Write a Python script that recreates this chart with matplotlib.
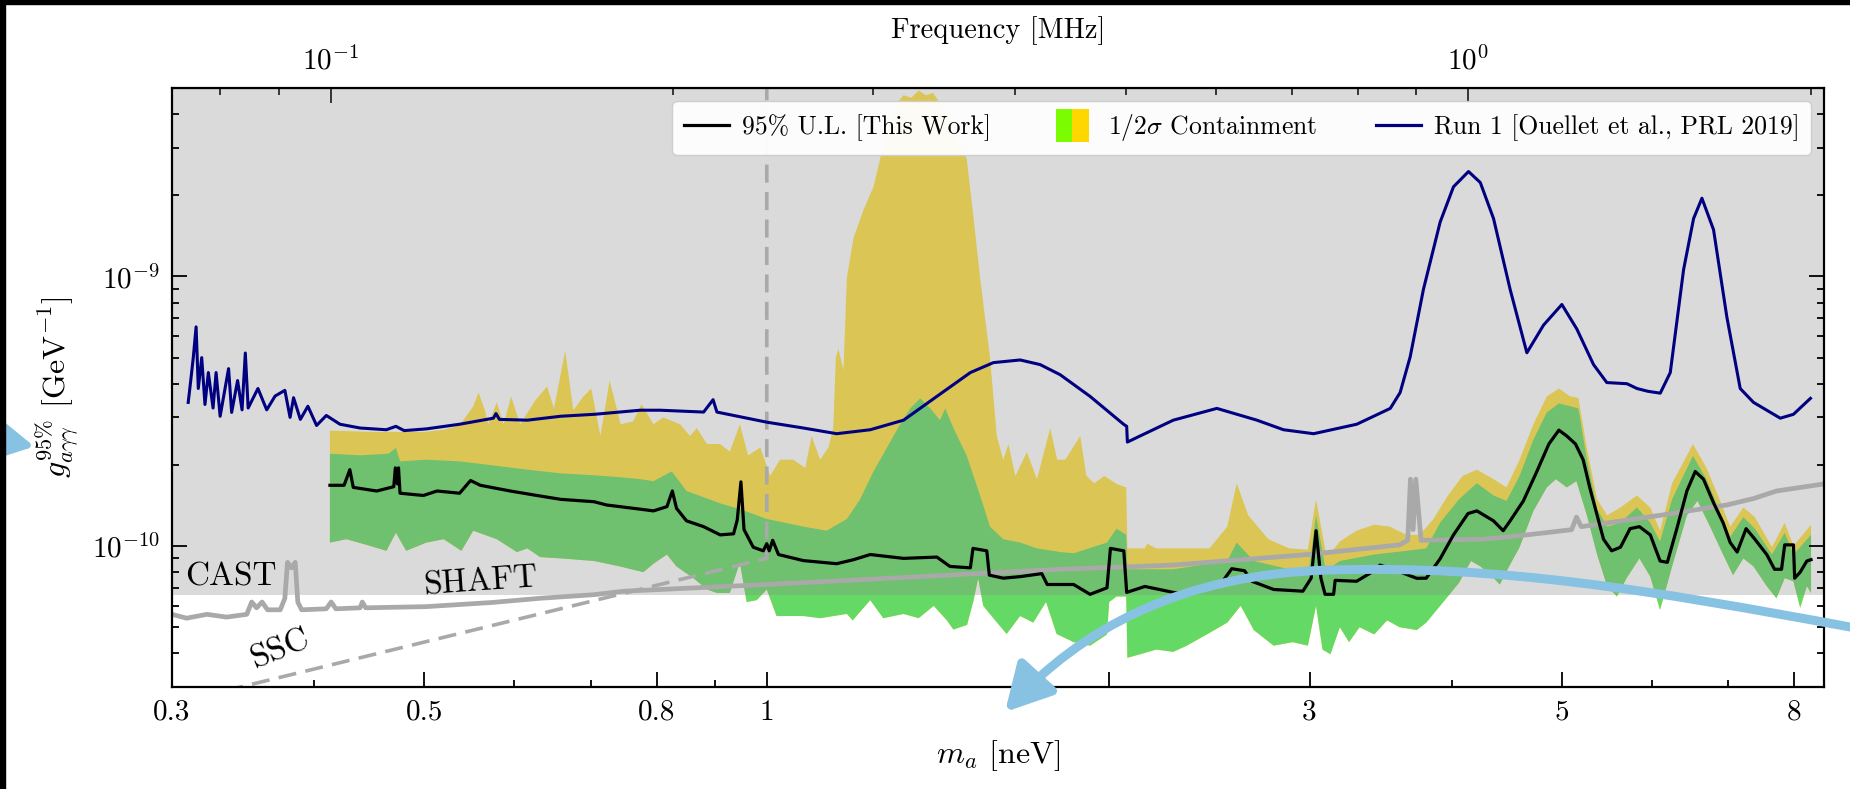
import numpy as np
import matplotlib
matplotlib.use('Agg')
import matplotlib.pyplot as plt
from matplotlib.patches import Rectangle, FancyArrowPatch
from matplotlib.path import Path
from matplotlib.legend_handler import HandlerBase
from matplotlib.lines import Line2D
from matplotlib.ticker import FixedLocator, FixedFormatter, NullFormatter, LogFormatterSciNotation

plt.rcParams['font.family'] = 'serif'
plt.rcParams['font.serif'] = ['cmr10']
plt.rcParams['mathtext.fontset'] = 'cm'
plt.rcParams['axes.unicode_minus'] = False
plt.rcParams['axes.formatter.use_mathtext'] = True

# ---------------- data ----------------
run1_m = [0.310, 0.3116, 0.3132, 0.315, 0.3164, 0.3186, 0.3207, 0.3229, 0.326, 0.328, 0.3307, 0.3364,
          0.3385, 0.3426, 0.3457, 0.348, 0.350, 0.357, 0.3634, 0.3696, 0.377, 0.381, 0.3837, 0.389,
          0.395, 0.402, 0.410, 0.4215, 0.439, 0.463, 0.472, 0.480, 0.502, 0.537, 0.575, 0.578, 0.582,
          0.616, 0.659, 0.705, 0.774, 0.806, 0.880, 0.897, 0.904, 1.0, 1.077, 1.152, 1.233, 1.319,
          1.411, 1.510, 1.582, 1.670, 1.739, 1.811, 1.924, 2.059, 2.072, 2.075, 2.129, 2.277, 2.487,
          2.697, 2.846, 3.025, 3.301, 3.533, 3.604, 3.678, 3.778, 3.908, 4.015, 4.139, 4.239, 4.354,
          4.503, 4.658, 4.818, 5.0, 5.154, 5.331, 5.476, 5.704, 5.821, 5.95, 6.102, 6.227, 6.397,
          6.528, 6.639, 6.797, 6.983, 7.174, 7.37, 7.78, 7.99, 8.27]
run1_g = [3.41e-10, 4.11e-10, 5.0e-10, 6.5e-10, 3.84e-10, 5.0e-10, 3.35e-10, 4.4e-10, 3.25e-10, 4.4e-10,
          3.03e-10, 4.55e-10, 3.13e-10, 4.11e-10, 3.2e-10, 5.2e-10, 3.25e-10, 3.84e-10, 3.2e-10, 3.6e-10,
          3.78e-10, 3.0e-10, 3.55e-10, 2.95e-10, 3.3e-10, 2.8e-10, 3.05e-10, 2.83e-10, 2.74e-10, 2.70e-10,
          2.78e-10, 2.68e-10, 2.72e-10, 2.83e-10, 2.98e-10, 3.1e-10, 2.95e-10, 2.93e-10, 3.03e-10,
          3.08e-10, 3.19e-10, 3.19e-10, 3.14e-10, 3.49e-10, 3.14e-10, 2.88e-10, 2.74e-10, 2.61e-10,
          2.70e-10, 2.93e-10, 3.59e-10, 4.40e-10, 4.79e-10, 4.90e-10, 4.71e-10, 4.32e-10, 3.59e-10,
          2.83e-10, 2.78e-10, 2.43e-10, 2.56e-10, 2.93e-10, 3.24e-10, 2.93e-10, 2.70e-10, 2.61e-10,
          2.83e-10, 3.24e-10, 3.71e-10, 5.03e-10, 8.95e-10, 1.59e-9, 2.15e-9, 2.45e-9, 2.23e-9, 1.64e-9,
          8.95e-10, 5.21e-10, 6.6e-10, 7.87e-10, 6.38e-10, 4.71e-10, 4.04e-10, 4.0e-10, 3.84e-10,
          3.75e-10, 3.69e-10, 4.4e-10, 1.06e-9, 1.64e-9, 1.95e-9, 1.49e-9, 7.06e-10, 3.84e-10, 3.41e-10,
          2.98e-10, 3.08e-10, 3.53e-10]

ul_m = [0.413, 0.425, 0.430, 0.433, 0.454, 0.470, 0.4715, 0.4735, 0.4745, 0.476, 0.499, 0.513, 0.537,
        0.549, 0.560, 0.595, 0.628, 0.659, 0.705, 0.723, 0.774, 0.795, 0.817, 0.826, 0.833, 0.850,
        0.880, 0.910, 0.935, 0.942, 0.949, 0.955, 0.973, 0.993, 1.0, 1.005, 1.012, 1.024, 1.077, 1.152,
        1.192, 1.233, 1.319, 1.411, 1.449, 1.510, 1.518, 1.561, 1.569, 1.614, 1.670, 1.745, 1.764,
        1.811, 1.861, 1.924, 1.991, 2.005, 2.06, 2.072, 2.15, 2.277, 2.33, 2.437, 2.52, 2.563, 2.63,
        2.67, 2.79, 2.96, 3.01, 3.04, 3.07, 3.096, 3.15, 3.16, 3.30, 3.42, 3.46, 3.58, 3.728, 3.80,
        3.908, 4.015, 4.135, 4.21, 4.354, 4.44, 4.503, 4.625, 4.753, 4.87, 4.97, 5.05, 5.14, 5.22,
        5.29, 5.37, 5.44, 5.53, 5.63, 5.74, 5.85, 5.98, 6.10, 6.19, 6.31, 6.44, 6.55, 6.66, 6.80,
        6.93, 7.03, 7.13, 7.26, 7.39, 7.57, 7.69, 7.80, 7.85, 7.99, 8.01, 8.10, 8.21, 8.28]
ul_g = [1.68e-10, 1.68e-10, 1.92e-10, 1.65e-10, 1.60e-10, 1.66e-10, 1.95e-10, 1.70e-10, 1.95e-10,
        1.57e-10, 1.54e-10, 1.60e-10, 1.57e-10, 1.75e-10, 1.68e-10, 1.60e-10, 1.54e-10, 1.49e-10,
        1.46e-10, 1.42e-10, 1.37e-10, 1.35e-10, 1.40e-10, 1.60e-10, 1.38e-10, 1.24e-10, 1.18e-10,
        1.10e-10, 1.11e-10, 1.25e-10, 1.73e-10, 1.15e-10, 9.9e-11, 9.6e-11, 1.02e-10, 9.6e-11, 1.05e-10,
        9.3e-11, 8.83e-11, 8.6e-11, 8.9e-11, 9.3e-11, 9.0e-11, 9.1e-11, 8.4e-11, 8.3e-11, 9.8e-11,
        9.6e-11, 7.8e-11, 7.6e-11, 7.7e-11, 7.9e-11, 7.2e-11, 7.2e-11, 7.2e-11, 6.62e-11, 7.0e-11,
        9.8e-11, 9.6e-11, 6.73e-11, 7.08e-11, 6.73e-11, 6.62e-11, 7.08e-11, 7.46e-11, 8.24e-11,
        8.1e-11, 7.4e-11, 6.9e-11, 6.8e-11, 7.6e-11, 1.14e-10, 7.6e-11, 6.62e-11, 6.62e-11, 7.46e-11,
        7.4e-11, 8.1e-11, 8.5e-11, 8.1e-11, 7.59e-11, 7.6e-11, 8.97e-11, 1.10e-10, 1.32e-10, 1.35e-10,
        1.24e-10, 1.14e-10, 1.24e-10, 1.47e-10, 1.89e-10, 2.39e-10, 2.69e-10, 2.56e-10, 2.39e-10,
        2.09e-10, 1.65e-10, 1.30e-10, 1.06e-10, 9.6e-11, 9.9e-11, 1.16e-10, 1.18e-10, 1.10e-10,
        8.8e-11, 8.7e-11, 1.16e-10, 1.60e-10, 1.89e-10, 1.77e-10, 1.44e-10, 1.22e-10, 1.03e-10,
        9.5e-11, 1.16e-10, 1.06e-10, 9.3e-11, 8.2e-11, 8.2e-11, 1.01e-10, 1.01e-10, 7.6e-11, 8.0e-11,
        8.8e-11, 8.9e-11]

hi2_m = [0.413, 0.45, 0.50, 0.52, 0.537, 0.552, 0.558, 0.565, 0.569, 0.579, 0.587, 0.596, 0.607, 0.626,
         0.641, 0.650, 0.665, 0.676, 0.690, 0.701, 0.714, 0.7275, 0.744, 0.763, 0.776, 0.795, 0.811,
         0.839, 0.856, 0.868, 0.886, 0.910, 0.928, 0.947, 0.963, 0.987, 1.007, 1.027, 1.055, 1.081,
         1.095, 1.114, 1.133, 1.144, 1.150, 1.156, 1.168, 1.176, 1.192, 1.216, 1.241, 1.258, 1.275,
         1.301, 1.319, 1.34, 1.36, 1.38, 1.40, 1.43, 1.459, 1.499, 1.52, 1.54, 1.571, 1.593, 1.614,
         1.631, 1.654, 1.693, 1.728, 1.775, 1.80, 1.83, 1.886, 1.91, 1.94, 1.98, 2.03, 2.07, 2.075,
         2.15, 2.16, 2.20, 2.45, 2.54, 2.589, 2.65, 2.76, 2.88, 2.99, 3.04, 3.10, 3.15, 3.19, 3.30,
         3.42, 3.53, 3.65, 3.75, 3.856, 3.97, 4.09, 4.21, 4.354, 4.47, 4.59, 4.72, 4.85, 4.97, 5.08,
         5.17, 5.26, 5.37, 5.48, 5.63, 5.82, 5.98, 6.10, 6.25, 6.52, 6.70, 6.88, 7.03, 7.22, 7.39,
         7.65, 7.85, 7.99, 8.28]
hi2_g = [2.68e-10, 2.65e-10, 2.65e-10, 2.7e-10, 2.8e-10, 3.3e-10, 3.71e-10, 3.2e-10, 2.83e-10, 3.41e-10,
         2.83e-10, 3.59e-10, 2.83e-10, 3.47e-10, 3.91e-10, 3.24e-10, 5.3e-10, 3.19e-10, 3.59e-10,
         3.84e-10, 2.56e-10, 4.11e-10, 2.83e-10, 2.9e-10, 3.36e-10, 2.83e-10, 3.0e-10, 2.83e-10,
         2.56e-10, 2.74e-10, 2.39e-10, 2.39e-10, 2.24e-10, 2.83e-10, 2.17e-10, 2.32e-10, 1.82e-10,
         2.09e-10, 2.09e-10, 1.95e-10, 2.56e-10, 2.09e-10, 2.32e-10, 2.74e-10, 5.0e-10, 5.38e-10,
         4.5e-10, 9.9e-10, 1.39e-9, 1.76e-9, 2.15e-9, 2.73e-9, 3.58e-9, 4.38e-9, 4.7e-9, 4.6e-9,
         4.9e-9, 4.7e-9, 4.8e-9, 4.2e-9, 3.46e-9, 2.73e-9, 1.64e-9, 9.9e-10, 5.03e-10, 2.56e-10,
         2.09e-10, 2.39e-10, 1.82e-10, 2.23e-10, 1.77e-10, 2.74e-10, 2.09e-10, 2.09e-10, 2.56e-10,
         1.82e-10, 1.71e-10, 1.82e-10, 1.70e-10, 1.65e-10, 9.8e-11, 9.8e-11, 1.02e-10, 9.8e-11, 9.8e-11,
         1.18e-10, 1.71e-10, 1.30e-10, 1.06e-10, 9.8e-11, 9.7e-11, 1.49e-10, 9.5e-11, 9.7e-11, 1.04e-10,
         1.14e-10, 1.20e-10, 1.18e-10, 1.10e-10, 1.10e-10, 1.26e-10, 1.54e-10, 1.82e-10, 1.92e-10,
         1.77e-10, 1.65e-10, 2.09e-10, 2.83e-10, 3.59e-10, 3.84e-10, 3.6e-10, 3.54e-10, 2.31e-10,
         1.49e-10, 1.30e-10, 1.39e-10, 1.54e-10, 1.39e-10, 1.14e-10, 1.71e-10, 2.39e-10, 1.95e-10,
         1.49e-10, 1.18e-10, 1.39e-10, 1.28e-10, 9.9e-11, 1.22e-10, 1.0e-10, 1.2e-10]

hi1_m = [0.413, 0.439, 0.465, 0.472, 0.476, 0.502, 0.537, 0.575, 0.616, 0.659, 0.705, 0.743, 0.774,
         0.795, 0.825, 0.850, 0.910, 0.947, 1.0, 1.077, 1.129, 1.176, 1.208, 1.241, 1.275, 1.31, 1.337,
         1.364, 1.392, 1.42, 1.435, 1.459, 1.499, 1.54, 1.571, 1.614, 1.670, 1.728, 1.811, 1.861,
         1.991, 2.03, 2.07, 2.075, 2.277, 2.54, 2.589, 2.68, 2.88, 3.0, 3.04, 3.10, 3.19, 3.42, 3.65,
         3.80, 3.908, 4.06, 4.17, 4.21, 4.354, 4.47, 4.59, 4.72, 4.85, 4.97, 5.17, 5.26, 5.37, 5.48,
         5.63, 5.82, 5.98, 6.10, 6.25, 6.52, 6.70, 6.88, 7.03, 7.22, 7.39, 7.65, 7.85, 7.99, 8.28]
hi1_g = [2.2e-10, 2.17e-10, 2.2e-10, 2.31e-10, 2.06e-10, 2.09e-10, 2.06e-10, 1.99e-10, 1.92e-10,
         1.86e-10, 1.83e-10, 1.80e-10, 1.77e-10, 1.74e-10, 1.89e-10, 1.60e-10, 1.44e-10, 1.37e-10,
         1.26e-10, 1.18e-10, 1.14e-10, 1.26e-10, 1.49e-10, 1.89e-10, 2.31e-10, 2.83e-10, 3.24e-10,
         3.53e-10, 3.24e-10, 2.93e-10, 3.24e-10, 2.74e-10, 2.16e-10, 1.54e-10, 1.18e-10, 1.06e-10,
         1.03e-10, 9.8e-11, 9.5e-11, 9.4e-11, 1.03e-10, 1.16e-10, 1.10e-10, 8.2e-11, 8.2e-11, 8.8e-11,
         1.03e-10, 8.8e-11, 8.2e-11, 8.4e-11, 1.30e-10, 8.1e-11, 8.8e-11, 9.3e-11, 9.6e-11, 9.8e-11,
         1.22e-10, 1.49e-10, 1.65e-10, 1.71e-10, 1.54e-10, 1.47e-10, 1.82e-10, 2.48e-10, 3.13e-10,
         3.38e-10, 3.24e-10, 2.09e-10, 1.37e-10, 1.18e-10, 1.22e-10, 1.39e-10, 1.22e-10, 1.04e-10,
         1.49e-10, 2.16e-10, 1.77e-10, 1.35e-10, 1.08e-10, 1.28e-10, 1.16e-10, 9.3e-11, 1.12e-10,
         9.3e-11, 1.10e-10]

lo1_m = [0.413, 0.427, 0.445, 0.463, 0.472, 0.482, 0.502, 0.520, 0.539, 0.552, 0.579, 0.603, 0.616,
         0.632, 0.659, 0.705, 0.743, 0.779, 0.795, 0.817, 0.833, 0.862, 0.886, 0.904, 0.928, 0.947,
         0.960, 0.98, 1.0, 1.02, 1.077, 1.114, 1.176, 1.19, 1.233, 1.266, 1.319, 1.36, 1.402, 1.44,
         1.459, 1.50, 1.52, 1.534, 1.55, 1.582, 1.625, 1.67, 1.715, 1.76, 1.798, 1.861, 1.924, 1.991,
         2.0, 2.03, 2.07, 2.075, 2.13, 2.2, 2.277, 2.34, 2.437, 2.54, 2.61, 2.68, 2.79, 2.90, 2.99,
         3.04, 3.08, 3.13, 3.19, 3.25, 3.32, 3.42, 3.51, 3.6, 3.728, 3.80, 3.908, 4.06, 4.16, 4.24,
         4.33, 4.41, 4.50, 4.59, 4.72, 4.85, 4.94, 5.05, 5.15, 5.26, 5.37, 5.48, 5.59, 5.70, 5.85,
         5.98, 6.10, 6.25, 6.44, 6.58, 6.75, 6.93, 7.07, 7.22, 7.37, 7.57, 7.72, 7.85, 7.99, 8.1,
         8.21, 8.28]
lo1_g = [1.03e-10, 1.06e-10, 1.01e-10, 9.6e-11, 1.12e-10, 9.6e-11, 1.03e-10, 1.06e-10, 9.6e-11,
         1.14e-10, 1.06e-10, 9.5e-11, 9.8e-11, 9.1e-11, 9.0e-11, 8.8e-11, 8.4e-11, 8.0e-11, 8.6e-11,
         9.3e-11, 8.4e-11, 7.6e-11, 6.9e-11, 6.7e-11, 6.7e-11, 8.7e-11, 6.2e-11, 6.3e-11, 6.9e-11,
         5.5e-11, 5.5e-11, 5.4e-11, 5.6e-11, 5.3e-11, 6.3e-11, 5.4e-11, 5.6e-11, 5.4e-11, 6.0e-11,
         5.3e-11, 4.9e-11, 5.1e-11, 6.3e-11, 7.6e-11, 6.0e-11, 5.4e-11, 4.72e-11, 5.5e-11, 5.2e-11,
         6.2e-11, 4.72e-11, 4.4e-11, 4.27e-11, 4.7e-11, 6.2e-11, 6.5e-11, 6.5e-11, 3.85e-11, 3.97e-11,
         4.13e-11, 4.05e-11, 4.27e-11, 4.7e-11, 5.2e-11, 6.0e-11, 4.88e-11, 4.27e-11, 4.4e-11,
         4.27e-11, 6.0e-11, 4.13e-11, 3.97e-11, 5.0e-11, 4.4e-11, 5.0e-11, 4.7e-11, 5.3e-11, 5.0e-11,
         4.88e-11, 5.2e-11, 6.0e-11, 7.3e-11, 8.8e-11, 8.4e-11, 7.8e-11, 7.2e-11, 8.5e-11, 9.9e-11,
         1.35e-10, 1.65e-10, 1.77e-10, 1.65e-10, 1.74e-10, 1.30e-10, 9.3e-11, 7.1e-11, 6.5e-11,
         7.6e-11, 9.0e-11, 7.7e-11, 5.8e-11, 8.4e-11, 1.30e-10, 1.47e-10, 1.18e-10, 9.3e-11, 7.8e-11,
         9.0e-11, 8.4e-11, 7.1e-11, 6.4e-11, 7.6e-11, 7.4e-11, 5.9e-11, 7.1e-11, 6.7e-11]

shaft_m = [0.3, 0.309, 0.322, 0.335, 0.349, 0.3525, 0.356, 0.360, 0.364, 0.3735, 0.377, 0.379, 0.382,
           0.385, 0.387, 0.390, 0.410, 0.414, 0.418, 0.439, 0.441, 0.444, 0.502, 0.575, 0.632, 0.705,
           0.749, 1.0, 1.364, 1.811, 2.277, 2.99, 3.6, 3.66, 3.68, 3.70, 3.72, 3.76, 4.26, 4.66, 5.1,
           5.15, 5.2, 6.1, 6.98, 7.37, 7.72, 8.5]
shaft_g = [5.58e-11, 5.4e-11, 5.58e-11, 5.45e-11, 5.58e-11, 6.2e-11, 5.9e-11, 6.2e-11, 5.8e-11,
           5.8e-11, 6.4e-11, 8.7e-11, 8.3e-11, 8.7e-11, 6.2e-11, 5.8e-11, 5.85e-11, 6.2e-11, 5.85e-11,
           5.9e-11, 6.2e-11, 5.9e-11, 5.96e-11, 6.18e-11, 6.4e-11, 6.6e-11, 6.8e-11, 7.2e-11, 7.7e-11,
           8.2e-11, 8.5e-11, 9.3e-11, 1.01e-10, 1.05e-10, 1.77e-10, 1.15e-10, 1.77e-10, 1.05e-10,
           1.06e-10, 1.1e-10, 1.15e-10, 1.28e-10, 1.18e-10, 1.3e-10, 1.42e-10, 1.5e-10, 1.6e-10, 1.7e-10]

ssc_m = [0.3, 1.0, 1.0]
ssc_g = [2.6e-11, 9.0e-11, 6.0e-9]

cast_g = 6.6e-11

xtick_vals = [0.3, 0.5, 0.8, 1, 2, 3, 5, 8]
xtick_labels = ['0.3', '0.5', '0.8', '1', '', '3', '5', '8']
xminor_vals = [0.4, 0.6, 0.7, 0.9, 4, 6, 7]
ytick_vals = [1e-10, 1e-9]
yminor_vals = [4e-11, 5e-11, 6e-11, 7e-11, 8e-11, 9e-11, 2e-10, 3e-10, 4e-10, 5e-10, 6e-10, 7e-10,
               8e-10, 9e-10, 2e-9, 3e-9, 4e-9]
ftick_vals = [0.1, 1.0]
fminor_vals = [0.08, 0.09, 0.2, 0.3, 0.4, 0.5, 0.6, 0.7, 0.8, 0.9, 2.0]
neV_to_MHz = 0.241799

# ---------------- figure ----------------
W, H = 1850, 789
fig = plt.figure(figsize=(W / 100, H / 100), dpi=100)
fig.patch.set_facecolor('white')
ax = fig.add_axes([172 / W, 1 - 687 / H, (1824 - 172) / W, (687 - 88) / H])
ax.set_xscale('log')
ax.set_yscale('log')
ax.set_xlim(0.3, 8.5)
ax.set_ylim(3e-11, 5e-9)

GREEN = '#65d965'
YELLOW = '#ffe140'

ax.fill(np.concatenate([hi2_m, lo1_m[::-1]]), np.concatenate([hi2_g, lo1_g[::-1]]),
        color=YELLOW, lw=0, zorder=1)
ax.fill(np.concatenate([hi1_m, lo1_m[::-1]]), np.concatenate([hi1_g, lo1_g[::-1]]),
        color=GREEN, lw=0, zorder=1.1)

# CAST excluded region (semi-transparent gray over the bands)
ax.axhspan(cast_g, 1e-7, color='#878787', alpha=0.3, lw=0, zorder=1.5)

ax.plot(ssc_m, ssc_g, color='#a9a9a9', lw=2.6, ls=(0, (5, 2.6)), zorder=2)
ax.plot(shaft_m, shaft_g, color='#a9a9a9', lw=3.4, zorder=2.2, solid_joinstyle='round')
ax.plot(run1_m, run1_g, color='#000080', lw=2.2, zorder=3)
ax.plot(ul_m, ul_g, color='black', lw=2.3, zorder=3.2)

ax.text(0.338, 7.7e-11, 'CAST', fontsize=24, ha='center', va='center', zorder=4)
ax.text(0.56, 7.35e-11, 'SHAFT', fontsize=24, ha='center', va='center', rotation=4, zorder=4)
ax.text(0.373, 4.13e-11, 'SSC', fontsize=24, ha='center', va='center', rotation=22, zorder=4)

# ticks
ax.xaxis.set_major_locator(FixedLocator(xtick_vals))
ax.xaxis.set_major_formatter(FixedFormatter(xtick_labels))
ax.xaxis.set_minor_locator(FixedLocator(xminor_vals))
ax.xaxis.set_minor_formatter(NullFormatter())
ax.yaxis.set_major_locator(FixedLocator(ytick_vals))
ax.yaxis.set_major_formatter(LogFormatterSciNotation())
ax.yaxis.set_minor_locator(FixedLocator(yminor_vals))
ax.yaxis.set_minor_formatter(NullFormatter())
ax.tick_params(which='both', direction='in', top=False, right=True, labelsize=21, width=1.3, pad=9)
ax.tick_params(which='major', length=10.5)
ax.tick_params(which='minor', length=5.3)
for s in ax.spines.values():
    s.set_linewidth(1.6)

ax.set_xlabel(r'$m_a$ [neV]', fontsize=23, labelpad=9)
ax.set_ylabel(r'$g_{a\gamma\gamma}^{95\%}$ [GeV$^{-1}$]', fontsize=23, labelpad=7)

sec = ax.secondary_xaxis('top', functions=(lambda m: m * neV_to_MHz, lambda f: f / neV_to_MHz))
sec.xaxis.set_major_locator(FixedLocator(ftick_vals))
sec.xaxis.set_major_formatter(LogFormatterSciNotation())
sec.xaxis.set_minor_locator(FixedLocator(fminor_vals))
sec.xaxis.set_minor_formatter(NullFormatter())
sec.tick_params(which='both', direction='in', labelsize=21, width=1.3, pad=9)
sec.tick_params(which='major', length=10.5)
sec.tick_params(which='minor', length=5.3)
sec.set_xlabel('Frequency [MHz]', fontsize=20.5, labelpad=6)


# legend with split green/gold square
class SplitHandler(HandlerBase):
    def create_artists(self, legend, orig_handle, xdescent, ydescent, width, height, fontsize, trans):
        s = 1.3 * fontsize
        cx = -xdescent + width / 2
        cy = -ydescent + height / 2
        r1 = Rectangle((cx - s / 2, cy - s / 2), s / 2, s, facecolor='#7cfc00', edgecolor='none',
                       transform=trans)
        r2 = Rectangle((cx, cy - s / 2), s / 2, s, facecolor='#ffd700', edgecolor='none',
                       transform=trans)
        return [r1, r2]


h_ul = Line2D([], [], color='black', lw=2.3)
h_band = Rectangle((0, 0), 1, 1)
h_run1 = Line2D([], [], color='#000080', lw=2.3)
leg = ax.legend([h_ul, h_band, h_run1],
                ['95% U.L. [This Work]', r'1/2$\sigma$ Containment', 'Run 1 [Ouellet et al., PRL 2019]'],
                handler_map={Rectangle: SplitHandler()}, loc='upper right', ncol=3, fontsize=18.5,
                handlelength=1.75, handletextpad=0.5, columnspacing=2.3, framealpha=0.95,
                borderpad=0.45)
leg.set_zorder(10)

# annotation arrows (light blue)
BLUE = '#88c2e2'
def fxy(x, y):
    return (x / W, 1 - y / H)

verts = [fxy(1850, 627), fxy(1650, 590), fxy(1500, 565), fxy(1330, 570),
         fxy(1180, 574), fxy(1080, 630), fxy(1005, 712)]
codes = [Path.MOVETO, Path.CURVE4, Path.CURVE4, Path.CURVE4, Path.CURVE4, Path.CURVE4, Path.CURVE4]
arr2 = FancyArrowPatch(path=Path(verts, codes), arrowstyle='-|>,head_length=0.55,head_width=0.3',
                       mutation_scale=50, color=BLUE, lw=6.5, transform=fig.transFigure, zorder=20)
fig.add_artist(arr2)
arr1 = FancyArrowPatch(fxy(0, 440), fxy(37, 447), arrowstyle='-|>,head_length=0.55,head_width=0.3',
                       mutation_scale=45, color=BLUE, lw=5, transform=fig.transFigure, zorder=20)
fig.add_artist(arr1)

# black frame strips (left / top of the screenshot)
fig.add_artist(Rectangle((0, 0), 5 / W, 1, transform=fig.transFigure, color='black', zorder=30))
fig.add_artist(Rectangle((0, 1 - 4 / H), 1, 4 / H, transform=fig.transFigure, color='black', zorder=30))

fig.savefig('out.png', dpi=100)
